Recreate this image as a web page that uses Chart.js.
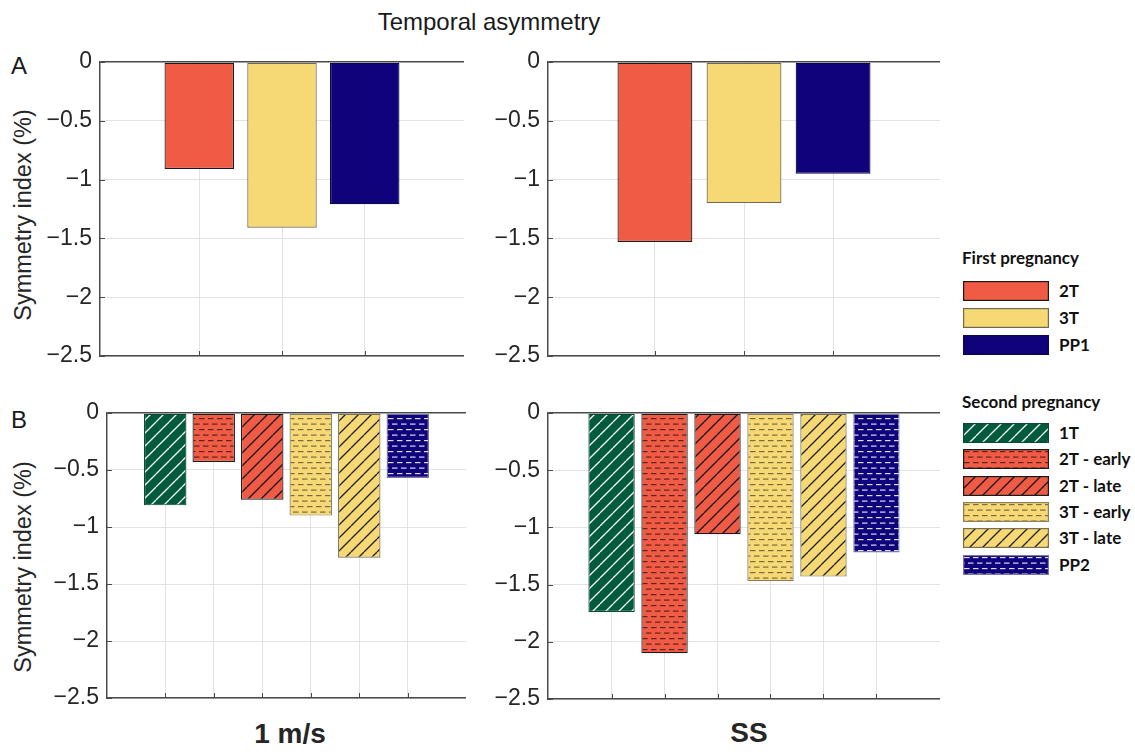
<!DOCTYPE html>
<html>
<head>
<meta charset="utf-8">
<script src="https://cdn.jsdelivr.net/npm/chart.js@4.4.1/dist/chart.umd.min.js"></script>
<style>
  body { margin: 0; background: #fff; }
  #page { position: relative; width: 1135px; height: 754px; overflow: hidden; background: #fff;
          font-family: "Liberation Sans", Arial, sans-serif; color: #1a1a1a; }
  #page canvas.chart { position: absolute; }
  .txt { position: absolute; white-space: nowrap; }
  .ttl { font-size: 24px; line-height: 24px; }
  .panel { font-size: 24px; line-height: 24px; }
  .ylab { font-size: 23.5px; line-height: 24px; width: 300px; text-align: center; transform: rotate(-90deg); color: #262626; }
  .grp { font-size: 28px; line-height: 28px; font-weight: bold; width: 200px; text-align: center; color: #262626; }
  .leg { position: absolute; font-family: Lato, "Open Sans", sans-serif; font-weight: bold; font-size: 17px; color: #111; }
  .leg .head { position: absolute; white-space: nowrap; line-height: 20px; }
  .leg .item { position: absolute; height: 20px; white-space: nowrap; }
  .leg .item canvas { position: absolute; left: 0; top: 0; }
  .leg .item span { position: absolute; left: 96px; top: 0; line-height: 20px; }
</style>
</head>
<body>
<div id="page">
  <div class="txt ttl" style="left:289px; width:400px; text-align:center; top:10px;">Temporal asymmetry</div>
  <div class="txt panel" style="left:11px; top:54px;">A</div>
  <div class="txt panel" style="left:11px; top:408px;">B</div>
  <div class="txt ylab" style="left:-127px; top:203px;">Symmetry index (%)</div>
  <div class="txt ylab" style="left:-127px; top:555px;">Symmetry index (%)</div>
  <div class="txt grp" style="left:190px; top:720px;">1 m/s</div>
  <div class="txt grp" style="left:649px; top:719px;">SS</div>

  <canvas class="chart" id="firstWalkChart" width="464" height="354" style="left:0px; top:32px;"></canvas>
  <canvas class="chart" id="firstSelfChart" width="470" height="354" style="left:470px; top:32px;"></canvas>
  <canvas class="chart" id="secondWalkChart" width="466" height="345" style="left:0px; top:383px;"></canvas>
  <canvas class="chart" id="secondSelfChart" width="470" height="346" style="left:470px; top:383px;"></canvas>

  <div class="leg" id="firstLegend" style="left:962px; top:248px;"></div>
  <div class="leg" id="secondLegend" style="left:962px; top:392px;"></div>
</div>

<script>
// symmetry index (%) per stage, walking at 1 m/s and at self-selected speed
var firstCats = ['2T', '3T', 'PP1'];
var firstWalk = [-0.91, -1.41, -1.21];
var firstSelf = [-1.53, -1.20, -0.95];

var secondCats = ['1T', '2T - early', '2T - late', '3T - early', '3T - late', 'PP2'];
var secondWalk = [-0.81, -0.43, -0.76, -0.90, -1.27, -0.57];
var secondSelf = [-1.74, -2.10, -1.06, -1.47, -1.43, -1.22];

var yTickLabels = ['\u22122.5', '\u22122', '\u22121.5', '\u22121', '\u22120.5', '0'];

// colours and hatching for each stage
var RED = '#ef5b44', YELLOW = '#f6d975', NAVY = '#10027a', GREEN = '#005b3d';
var styles = {
  '2T':         { fill: RED,    hatch: null,   ink: null,      edge: '#1b1b1b' },
  '3T':         { fill: YELLOW, hatch: null,   ink: null,      edge: '#6f6853' },
  'PP1':        { fill: NAVY,   hatch: null,   ink: null,      edge: '#0b0850' },
  '1T':         { fill: GREEN,  hatch: 'diag', ink: '#ffffff', edge: '#0d4a31' },
  '2T - early': { fill: RED,    hatch: 'dash', ink: '#5e2418', edge: '#1b1b1b' },
  '2T - late':  { fill: RED,    hatch: 'diag', ink: '#151515', edge: '#1b1b1b' },
  '3T - early': { fill: YELLOW, hatch: 'dash', ink: '#7e6a3e', edge: '#8a7f5e' },
  '3T - late':  { fill: YELLOW, hatch: 'diag', ink: '#1e1e1e', edge: '#7a7050' },
  'PP2':        { fill: NAVY,   hatch: 'dash', ink: '#dcdcf4', edge: '#7676a0' }
};

function makeFill(st){
  if(!st.hatch) return st.fill;
  var c = document.createElement('canvas');
  var g;
  if(st.hatch == 'diag'){
    var s = 13;
    c.width = s; c.height = s;
    g = c.getContext('2d');
    g.fillStyle = st.fill;
    g.fillRect(0, 0, s, s);
    g.strokeStyle = st.ink;
    g.lineWidth = 1.3;
    g.beginPath();
    for(var k = -1; k <= 1; k++){
      g.moveTo(k * s, s);
      g.lineTo(k * s + s, 0);
    }
    g.stroke();
  }else{
    // short horizontal dashes, every other row shifted
    c.width = 9; c.height = 11;
    g = c.getContext('2d');
    g.fillStyle = st.fill;
    g.fillRect(0, 0, 9, 11);
    g.fillStyle = st.ink;
    g.fillRect(1, 2, 5.5, 1.2);
    g.fillRect(5, 7.5, 5.5, 1.2);
    g.fillRect(-4, 7.5, 5.5, 1.2);
  }
  return g.createPattern(c, 'repeat');
}

var fills = {};
Object.keys(styles).forEach(function(k){ fills[k] = makeFill(styles[k]); });

var AXIS = '#4a4a4a', GRID = '#e3e3e3';

// small tick marks pointing into the plot
var innerTicks = {
  id: 'innerTicks',
  afterDraw: function(chart){
    var ctx = chart.ctx, a = chart.chartArea, x = chart.scales.x, y = chart.scales.y;
    ctx.save();
    ctx.strokeStyle = AXIS;
    ctx.lineWidth = 1;
    ctx.beginPath();
    x.ticks.forEach(function(t){
      var px = Math.round(x.getPixelForValue(t.value)) + 0.5;
      ctx.moveTo(px, a.bottom);
      ctx.lineTo(px, a.bottom - 5);
    });
    y.ticks.forEach(function(t){
      var py = Math.round(y.getPixelForValue(t.value)) + 0.5;
      ctx.moveTo(a.left, py);
      ctx.lineTo(a.left + 5, py);
    });
    ctx.stroke();
    ctx.restore();
  }
};

function makeChart(id, cats, vals, yWidth, barPct){
  return new Chart(document.getElementById(id), {
    type: 'bar',
    data: {
      datasets: [{
        data: vals.map(function(v, i){ return { x: i + 1, y: v }; }),
        backgroundColor: cats.map(function(c){ return fills[c]; }),
        borderColor: cats.map(function(c){ return styles[c].edge; }),
        borderWidth: 1.2,
        borderSkipped: false,
        barPercentage: barPct,
        categoryPercentage: 1
      }]
    },
    options: {
      responsive: false,
      animation: false,
      events: [],
      layout: { padding: { top: 30, bottom: 30, left: 0, right: 0 } },
      plugins: { legend: { display: false }, tooltip: { enabled: false } },
      scales: {
        x: {
          type: 'linear',
          min: -0.2,
          max: cats.length + 1.2,
          offset: false,
          afterBuildTicks: function(s){
            s.ticks = cats.map(function(c, i){ return { value: i + 1 }; });
          },
          afterFit: function(s){ s.height = 0; },
          ticks: { display: false },
          grid: { offset: false, color: GRID, lineWidth: 1, drawTicks: false },
          border: { display: true, color: AXIS, width: 1.5 }
        },
        y: {
          min: -2.5,
          max: 0,
          afterFit: function(s){ s.width = yWidth; },
          ticks: {
            stepSize: 0.5,
            padding: 8,
            color: '#262626',
            font: { family: '"Liberation Sans", Arial, sans-serif', size: 23 },
            callback: function(v, i){ return yTickLabels[i]; }
          },
          grid: {
            drawTicks: false,
            color: function(c){ return c.tick && c.tick.value === 0 ? AXIS : GRID; },
            lineWidth: function(c){ return c.tick && c.tick.value === 0 ? 1.5 : 1; }
          },
          border: { color: AXIS, width: 1.5 }
        }
      }
    },
    plugins: [innerTicks]
  });
}

makeChart('firstWalkChart', firstCats, firstWalk, 100, 0.84);
makeChart('firstSelfChart', firstCats, firstSelf, 78, 0.84);
makeChart('secondWalkChart', secondCats, secondWalk, 107, 0.875);
makeChart('secondSelfChart', secondCats, secondSelf, 78, 0.875);

// legends
function buildLegend(id, title, cats, firstTop, step){
  var box = document.getElementById(id);
  var head = document.createElement('div');
  head.className = 'head';
  head.style.left = '0px';
  head.style.top = '0px';
  head.textContent = title;
  box.appendChild(head);
  cats.forEach(function(c, i){
    var item = document.createElement('div');
    item.className = 'item';
    item.style.left = '1px';
    item.style.top = Math.round(firstTop + i * step) + 'px';
    var sw = document.createElement('canvas');
    sw.width = 86; sw.height = 20;
    var g = sw.getContext('2d');
    g.fillStyle = fills[c];
    g.fillRect(0, 0, 86, 20);
    g.strokeStyle = styles[c].edge;
    g.lineWidth = 1.2;
    g.strokeRect(0.6, 0.6, 84.8, 18.8);
    var lab = document.createElement('span');
    lab.textContent = c;
    item.appendChild(sw);
    item.appendChild(lab);
    box.appendChild(item);
  });
}
buildLegend('firstLegend', 'First pregnancy', firstCats, 33, 27);
buildLegend('secondLegend', 'Second pregnancy', secondCats, 31, 26.3);
</script>
</body>
</html>
